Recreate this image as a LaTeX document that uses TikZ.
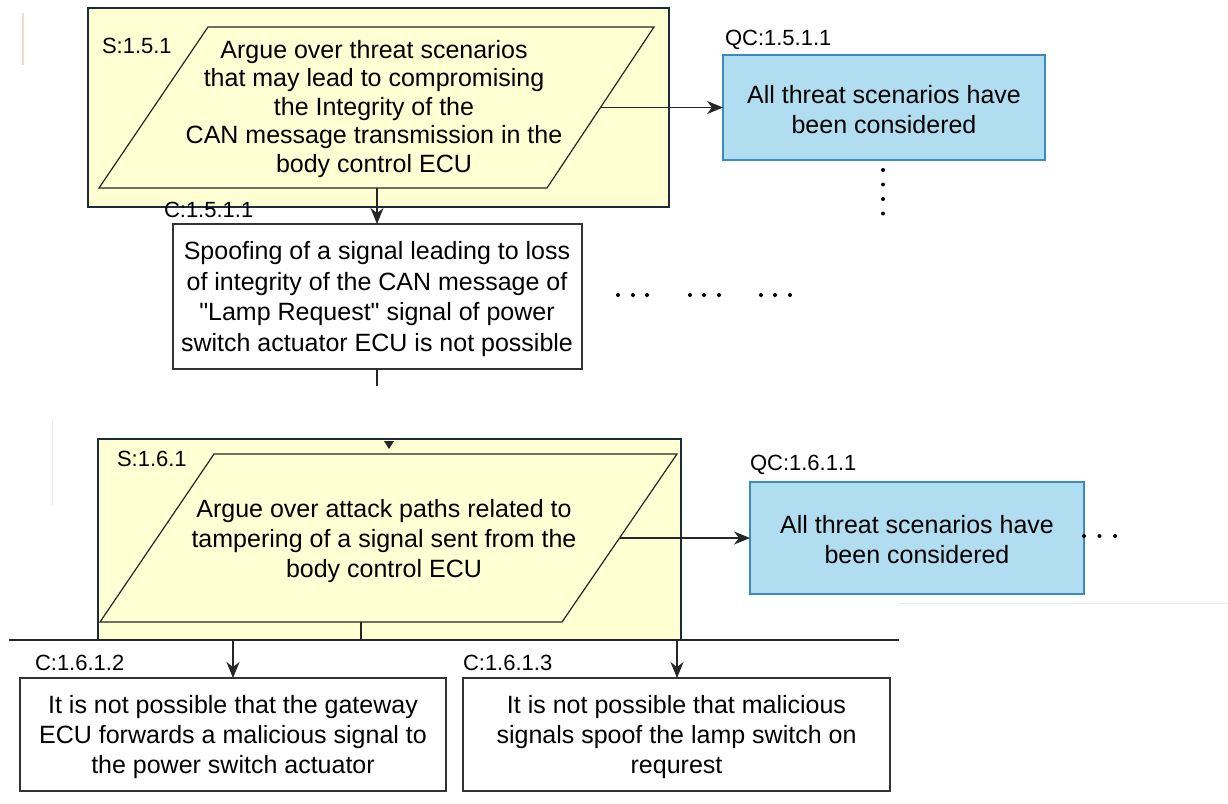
\documentclass[tikz,border=0pt]{standalone}
\usepackage{fontspec}
\setmainfont{Liberation Sans}[Ligatures=TeXOff]
\usetikzlibrary{arrows.meta}
\definecolor{goalfill}{HTML}{FFFFD4}
\definecolor{frameline}{HTML}{1C2B3A}
\definecolor{qcfill}{HTML}{B1DDF0}
\definecolor{qcline}{HTML}{3A8CBC}
\definecolor{boxline}{HTML}{333333}
\definecolor{faintpink}{HTML}{F4D6D6}
\definecolor{faintgray}{HTML}{EBEBEB}

\begin{document}
\begin{tikzpicture}[x=1pt,y=-1pt,
  every node/.style={inner sep=0pt, outer sep=0pt},
  frame/.style={draw=frameline, line width=2.2pt, fill=goalfill, rectangle},
  para/.style={draw=black!85, line width=1.2pt, fill=goalfill},
  body/.style={font=\fontsize{25}{30}\selectfont, align=center},
  tag/.style={font=\fontsize{22}{26}\selectfont, anchor=west},
  claim/.style={draw=boxline, line width=1.4pt, fill=white, rectangle},
  qc/.style={draw=qcline, line width=1.4pt, fill=qcfill, rectangle},
  link/.style={line width=1.3pt, draw=black!85},
  arr/.style={link, -{Stealth[length=16pt, width=13pt, inset=5pt]}},
  dot/.style={fill=black, circle, minimum size=4pt}
]
\useasboundingbox (0,0) rectangle (1228,803);

% faint edge marks
\draw[faintpink, line width=1.6pt] (23,13) -- (23,65);
\draw[faintgray, line width=1pt] (52,420) -- (52,505);
\draw[faintgray, line width=1pt] (899,603) -- (1228,603);

% ---------- strategy S:1.5.1 ----------
\node[frame, minimum width=581pt, minimum height=199pt] (s1) at (378.5,107.5) {};
\coordinate (s1tl) at (208,27);
\coordinate (s1tr) at (654,27);
\coordinate (s1br) at (547,188);
\coordinate (s1bl) at (99,188);
\draw[para] (s1tl) -- (s1tr) -- (s1br) -- (s1bl) -- cycle;
\node[body, font=\fontsize{25}{28.5}\selectfont] (s1txt) at (374,109)
  {Argue over threat scenarios\\that may lead to compromising\\the Integrity of the\\CAN message transmission in the\\body control ECU};
\node[tag] (s1tag) at (102,46) {S:1.5.1};
\coordinate (s1out) at (601,107.5);
\coordinate (s1down) at (377,188);

% ---------- QC:1.5.1.1 ----------
\node[qc, minimum width=322pt, minimum height=105pt] (qc1) at (884,107.5) {};
\node[body] (qc1txt) at (884,110) {All threat scenarios have\\been considered};
\node[tag] (qc1tag) at (725,40) {QC:1.5.1.1};
\draw[arr] (s1out) -- (qc1.west);

% vertical continuation dots
\foreach \yy [count=\i] in {170,184.5,199,213.5}
  \node[dot] (vd\i) at (883,\yy) {};

% ---------- claim C:1.5.1.1 ----------
\node[claim, minimum width=409pt, minimum height=145pt] (c1) at (377.5,296.5) {};
\node[body, font=\fontsize{25}{30.7}\selectfont] (c1txt) at (377,299)
  {Spoofing of a signal leading to loss\\of integrity of the CAN message of\\"Lamp Request" signal of power\\switch actuator ECU is not possible};
\draw[arr] (s1down) -- (s1down |- c1.north);
\node[tag] (c1tag) at (164,210) {C:1.5.1.1};
\coordinate (c1stub) at (377,386);
\draw[link] (c1.south -| c1stub) -- (c1stub);

% horizontal continuation dots
\foreach \xx [count=\i] in {618,633,647, 690,704,719, 761,775,790}
  \node[dot] (hd\i) at (\xx,295) {};

% ---------- strategy S:1.6.1 ----------
\node[frame, minimum width=583pt, minimum height=201pt] (s2) at (389.5,539.5) {};
\coordinate (s2tl) at (214,454);
\coordinate (s2tr) at (677,454);
\coordinate (s2br) at (562,622);
\coordinate (s2bl) at (100,622);
\draw[para] (s2tl) -- (s2tr) -- (s2br) -- (s2bl) -- cycle;
\node[body] (s2txt) at (384,541)
  {Argue over attack paths related to\\tampering of a signal sent from the\\body control ECU};
\node[tag] (s2tag) at (117,459) {S:1.6.1};
\fill[black!85] (384,441) -- (394,441) -- (389,449) -- cycle;
\coordinate (s2out) at (619.5,538);
\coordinate (s2down) at (361,622);

% ---------- QC:1.6.1.1 ----------
\node[qc, minimum width=334pt, minimum height=112pt] (qc2) at (917,538) {};
\node[body] (qc2txt) at (917,540) {All threat scenarios have\\been considered};
\node[tag] (qc2tag) at (750,465) {QC:1.6.1.1};
\draw[arr] (s2out) -- (qc2.west);
\foreach \xx [count=\i] in {1084,1099.5,1115}
  \node[dot] (rd\i) at (\xx,536) {};

% ---------- branching to claims ----------
\coordinate (barL) at (9,640);
\coordinate (barR) at (899,640);
\draw[link] (barL) -- (barR);
\draw[link] (s2down) -- (s2down |- barL);

\node[claim, minimum width=426pt, minimum height=113pt] (c2) at (233,734.5) {};
\node[body] (c2txt) at (233,737)
  {It is not possible that the gateway\\ECU forwards a malicious signal to\\the power switch actuator};
\node[tag] (c2tag) at (35,663) {C:1.6.1.2};

\node[claim, minimum width=427pt, minimum height=113pt] (c3) at (676.5,734.5) {};
\node[body] (c3txt) at (676.5,737)
  {It is not possible that malicious\\signals spoof the lamp switch on\\requrest};
\node[tag] (c3tag) at (463,663) {C:1.6.1.3};

\draw[arr] (c2.north |- barL) -- (c2.north);
\draw[arr] (677,640) -- (677,678);
\end{tikzpicture}
\end{document}
